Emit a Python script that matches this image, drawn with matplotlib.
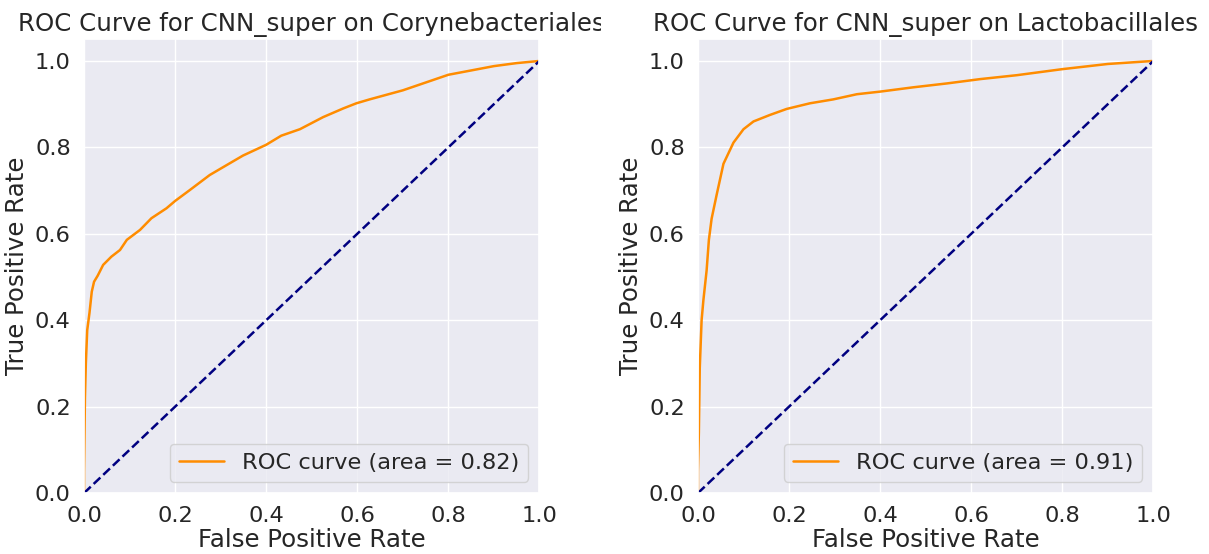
import matplotlib
matplotlib.use("Agg")
from matplotlib import pyplot as plt
from matplotlib.transforms import Bbox, TransformedBbox
import seaborn as sns

### ------------------------------- DATA ------------------------------- ###
# Corynebacteriales ROC points
fpr_cory = [0, 0.0, 0.002, 0.004, 0.007, 0.012, 0.017, 0.022, 0.03, 0.042, 0.06,
            0.079, 0.094, 0.123, 0.148, 0.181, 0.2, 0.232, 0.276, 0.31, 0.349,
            0.40, 0.433, 0.474, 0.525, 0.569, 0.598, 0.627, 0.7, 0.75, 0.8,
            0.85, 0.9, 0.95, 1.0]
tpr_cory = [0, 0.05, 0.22, 0.30, 0.377, 0.417, 0.466, 0.489, 0.503, 0.528, 0.547,
            0.5625, 0.586, 0.609, 0.636, 0.659, 0.676, 0.701, 0.736, 0.757, 0.781,
            0.806, 0.827, 0.842, 0.87, 0.89, 0.902, 0.911, 0.932, 0.95, 0.968,
            0.978, 0.988, 0.995, 1.0]
auc_cory = 0.82

# Lactobacillales ROC points
fpr_lacto = [0, 0.0, 0.002, 0.004, 0.008, 0.012, 0.019, 0.024, 0.03, 0.041, 0.056,
             0.078, 0.1, 0.122, 0.158, 0.195, 0.246, 0.297, 0.349, 0.4, 0.473,
             0.547, 0.62, 0.7, 0.8, 0.9, 1.0]
tpr_lacto = [0, 0.05, 0.14, 0.29, 0.40, 0.447, 0.515, 0.586, 0.635, 0.69, 0.762,
             0.811, 0.842, 0.86, 0.875, 0.889, 0.902, 0.911, 0.923, 0.929, 0.939,
             0.948, 0.958, 0.967, 0.981, 0.993, 1.0]
auc_lacto = 0.91

orders = ["Corynebacteriales", "Lactobacillales"]
fprs = [fpr_cory, fpr_lacto]
tprs = [tpr_cory, tpr_lacto]
aucs = [auc_cory, auc_lacto]

### ------------------------------- PLOT ------------------------------- ###
sns.set_theme(style="darkgrid", font_scale=1.47)
plt.rcParams['font.family'] = ['DejaVu Sans']

fig = plt.figure(figsize=(12.09, 5.54), dpi=100)
lefts = [0.0695, 0.5773]

for i in range(2):
    ax = fig.add_axes([lefts[i], 0.110, 0.3767, 0.819])
    ax.plot(fprs[i], tprs[i], color="darkorange", lw=1.8,
            label="ROC curve (area = %0.2f)" % aucs[i])
    ax.plot([0, 1], [0, 1], color="navy", lw=1.8, linestyle="--")
    ax.set_xlim([0.0, 1.0])
    ax.set_ylim([0.0, 1.05])
    ax.set_xlabel("False Positive Rate", labelpad=1)
    ax.set_ylabel("True Positive Rate")
    t = ax.set_title("ROC Curve for CNN_super on " + orders[i])
    if i == 0:
        # the left title runs into the right panel and is cut there
        t.set_clip_on(True)
        t.set_clip_box(TransformedBbox(Bbox([[0, 0], [0.497, 1]]), fig.transFigure))
    ax.legend(loc="lower right")

fig.savefig("out.png", dpi=100)
